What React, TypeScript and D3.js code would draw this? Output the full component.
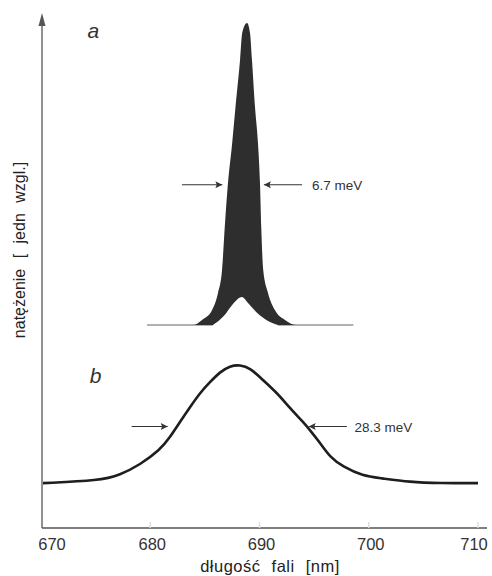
import React from 'react';
import * as d3 from 'd3';

// widmo a (wąska linia) - górna krawędź wypełnienia
const waveA = [679.7, 683.9, 684.74, 685.65, 686.2, 686.57, 686.82, 687.1, 687.5, 687.8, 688.22, 688.42, 688.86, 689.13, 689.31, 689.59, 689.86, 690.05, 690.16, 690.34, 690.78, 691.42, 692.33, 693.43, 698.6];
const intensA = [39.8, 39.8, 40.8, 42.7, 46.1, 50.6, 59.0, 67.3, 75.5, 82.5, 91.8, 97.1, 99.0, 97.1, 91.8, 82.5, 75.5, 67.3, 59.0, 50.6, 46.1, 42.7, 40.8, 39.8, 39.8];

// jasne "wcięcie" u podstawy piku a
const waveNotch = [685.74, 686.75, 687.48, 688.4, 688.95, 689.77, 690.78, 691.69];
const intensNotch = [39.8, 41.6, 43.7, 45.3, 44.1, 42.2, 40.6, 39.8];
const baseA = 39.8;

// widmo b (szeroka linia)
const waveB = [670.18, 675.4, 677.23, 679.06, 680.89, 681.81, 682.72, 683.64, 684.55, 685.47, 686.38, 687.3, 688.22, 689.13, 690.32, 691.6, 692.79, 693.98, 694.62, 695.54, 696.45, 697.64, 699.47, 701.03, 703.78, 706.52, 710.0];
const intensB = [8.8, 9.3, 10.4, 12.4, 15.3, 17.8, 20.8, 23.7, 26.5, 28.6, 30.6, 31.8, 32.0, 31.4, 29.0, 26.5, 23.5, 20.8, 19.2, 16.7, 13.9, 12.0, 10.2, 9.8, 9.0, 8.8, 8.8];

const xTicks = [670, 680, 690, 700, 710];

const App: React.FC = () => {
  const svgRef = React.useRef<SVGSVGElement>(null);
  const width = 492;
  const height = 576;

  React.useEffect(() => {
    if (!svgRef.current) return;
    const svg = d3.select(svgRef.current);
    svg.selectAll('*').remove();

    const font = 'Liberation Sans, Arial, sans-serif';
    const x = d3.scaleLinear().domain([670, 710]).range([41, 478]);
    const y = d3.scaleLinear().domain([0, 100]).range([528, 18]);

    svg.append('rect').attr('width', width).attr('height', height).attr('fill', '#fff');

    const defs = svg.append('defs');
    defs.append('marker')
      .attr('id', 'arr')
      .attr('viewBox', '0 0 10 10')
      .attr('refX', 10).attr('refY', 5)
      .attr('markerWidth', 10).attr('markerHeight', 7)
      .attr('markerUnits', 'userSpaceOnUse')
      .attr('orient', 'auto')
      .append('path').attr('d', 'M0,0 L10,5 L0,10 L2,5 Z').attr('fill', '#333');

    // osie
    const x0 = 42;
    svg.append('line')
      .attr('x1', x0).attr('x2', x0).attr('y1', y(0)).attr('y2', 18)
      .attr('stroke', '#555').attr('stroke-width', 1.3);
    svg.append('path')
      .attr('d', `M${x0 - 3.5},26 L${x0},13 L${x0 + 3.5},26 Z`)
      .attr('fill', '#555');
    svg.append('line')
      .attr('x1', x0).attr('x2', 487).attr('y1', y(0)).attr('y2', y(0))
      .attr('stroke', '#555').attr('stroke-width', 1.3);

    // podziałka
    svg.selectAll('.tick')
      .data(xTicks.slice(1))
      .enter().append('line')
      .attr('x1', d => x(d)).attr('x2', d => x(d))
      .attr('y1', y(0)).attr('y2', y(0) - 6)
      .attr('stroke', '#ddd').attr('stroke-width', 1.5);

    svg.selectAll('.tick-label')
      .data(xTicks)
      .enter().append('text')
      .attr('x', d => (d === 670 ? x(d) + 11 : d === 710 ? x(d) - 4 : x(d) + 2))
      .attr('y', 550)
      .attr('text-anchor', 'middle')
      .attr('font-family', font)
      .attr('font-size', 16.5)
      .attr('fill', '#333')
      .text(d => d);

    svg.append('text')
      .attr('x', 270).attr('y', 572)
      .attr('text-anchor', 'middle')
      .attr('font-family', font)
      .attr('font-size', 16.5)
      .attr('letter-spacing', 0.5)
      .attr('word-spacing', 6)
      .attr('fill', '#222')
      .text('długość fali [nm]');

    svg.append('text')
      .attr('transform', 'translate(25,250) rotate(-90)')
      .attr('text-anchor', 'middle')
      .attr('font-family', font)
      .attr('font-size', 16)
      .attr('word-spacing', 6)
      .attr('fill', '#222')
      .text('natężenie [ jedn wzgl.]');

    // widmo a
    const lineA = d3.line<number>().x(d => x(d)).y(() => y(baseA));
    svg.append('path')
      .attr('d', lineA([waveA[0], waveA[waveA.length - 1]]))
      .attr('stroke', '#999').attr('stroke-width', 1.5).attr('fill', 'none');

    const areaA = d3.area<number>()
      .x((_, i) => x(waveA[i]))
      .y0(y(baseA))
      .y1(d => y(d))
      .curve(d3.curveMonotoneX);
    svg.append('path')
      .attr('d', areaA(intensA))
      .attr('fill', '#2e2e2e');

    const areaNotch = d3.area<number>()
      .x((_, i) => x(waveNotch[i]))
      .y0(y(baseA) + 1)
      .y1(d => y(d))
      .curve(d3.curveMonotoneX);
    svg.append('path')
      .attr('d', areaNotch(intensNotch))
      .attr('fill', '#fff');

    // widmo b
    const lineB = d3.line<number>()
      .x((_, i) => x(waveB[i]))
      .y(d => y(d))
      .curve(d3.curveBasis);
    svg.append('path')
      .attr('d', lineB(intensB))
      .attr('stroke', '#1e1e1e').attr('stroke-width', 2.6).attr('fill', 'none');

    // strzałki szerokości połówkowej
    const arrows = [
      { from: 682.9, to: 686.6, level: 67.3 },
      { from: 693.9, to: 690.4, level: 67.3 },
      { from: 678.3, to: 681.6, level: 19.9 },
      { from: 698.0, to: 694.5, level: 19.9 },
    ];
    svg.selectAll('.arrow')
      .data(arrows)
      .enter().append('line')
      .attr('x1', d => x(d.from)).attr('x2', d => x(d.to))
      .attr('y1', d => y(d.level)).attr('y2', d => y(d.level))
      .attr('stroke', '#333').attr('stroke-width', 1.2)
      .attr('marker-end', 'url(#arr)');

    const notes = [
      { text: '6.7 meV', wl: 694.8, level: 67.3 },
      { text: '28.3 meV', wl: 698.7, level: 19.9 },
    ];
    svg.selectAll('.note')
      .data(notes)
      .enter().append('text')
      .attr('x', d => x(d.wl)).attr('y', d => y(d.level) + 5)
      .attr('font-family', font)
      .attr('font-size', 13.5)
      .attr('fill', '#333')
      .text(d => d.text);

    // oznaczenia widm
    const letters = [
      { text: 'a', wl: 674.8, level: 96.0 },
      { text: 'b', wl: 675.0, level: 28.4 },
    ];
    svg.selectAll('.letter')
      .data(letters)
      .enter().append('text')
      .attr('x', d => x(d.wl)).attr('y', d => y(d.level))
      .attr('text-anchor', 'middle')
      .attr('font-family', font)
      .attr('font-style', 'italic')
      .attr('font-size', 21)
      .attr('fill', '#333')
      .text(d => d.text);
  }, []);

  return (
    <svg
      ref={svgRef}
      width={width}
      height={height}
      style={{ position: 'absolute', left: 0, top: 0 }}
    />
  );
};

export default App;
